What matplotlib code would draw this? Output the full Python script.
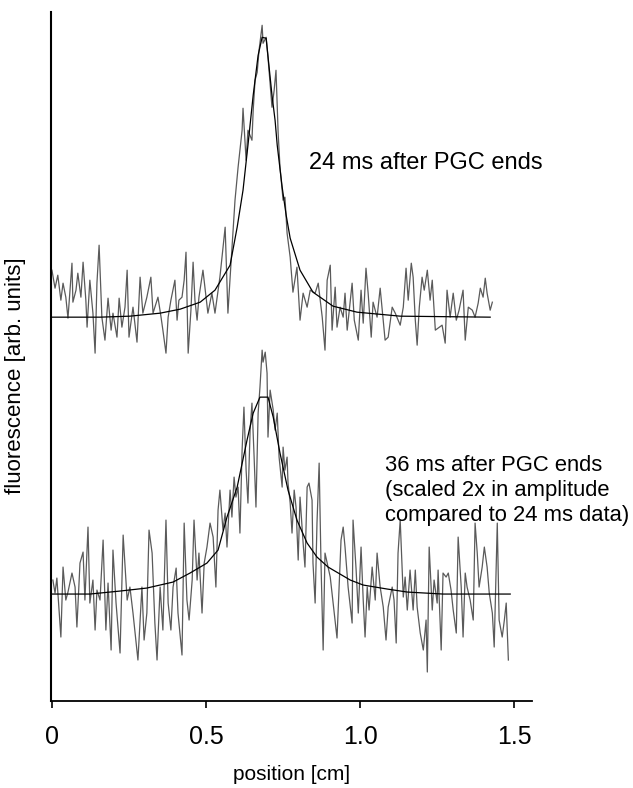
import matplotlib
matplotlib.use('Agg')
import matplotlib.pyplot as plt

plt.rcParams['font.family'] = ['Liberation Sans', 'DejaVu Sans']

# 24 ms trace (signal above its own baseline, arb. units)
x_24 = [0.000, 0.010, 0.019, 0.029, 0.036, 0.045, 0.052, 0.065, 0.068, 0.078,
        0.084, 0.094, 0.101, 0.110, 0.114, 0.123, 0.133, 0.140, 0.146, 0.153,
        0.162, 0.172, 0.182, 0.192, 0.198, 0.211, 0.218, 0.227, 0.237, 0.244,
        0.250, 0.263, 0.276, 0.286, 0.295, 0.308, 0.321, 0.328, 0.344, 0.354,
        0.360, 0.370, 0.377, 0.386, 0.399, 0.406, 0.412, 0.422, 0.429, 0.435,
        0.442, 0.451, 0.458, 0.464, 0.471, 0.477, 0.490, 0.506, 0.519, 0.529,
        0.545, 0.562, 0.571, 0.581, 0.594, 0.604, 0.617, 0.620, 0.630, 0.636,
        0.649, 0.653, 0.659, 0.666, 0.672, 0.682, 0.685, 0.695, 0.701, 0.714,
        0.721, 0.727, 0.734, 0.740, 0.750, 0.756, 0.763, 0.773, 0.782, 0.795,
        0.805, 0.815, 0.828, 0.838, 0.854, 0.864, 0.877, 0.886, 0.893, 0.903,
        0.909, 0.919, 0.925, 0.935, 0.945, 0.951, 0.958, 0.974, 0.981, 0.994,
        1.003, 1.010, 1.019, 1.026, 1.036, 1.042, 1.055, 1.065, 1.075, 1.081,
        1.091, 1.104, 1.114, 1.130, 1.140, 1.149, 1.156, 1.166, 1.172, 1.179,
        1.185, 1.192, 1.201, 1.208, 1.218, 1.227, 1.234, 1.244, 1.253, 1.266,
        1.276, 1.282, 1.292, 1.302, 1.312, 1.321, 1.334, 1.341, 1.351, 1.364,
        1.373, 1.383, 1.390, 1.399, 1.406, 1.412, 1.422, 1.429]
y_24 = [0.47, 0.29, 0.42, 0.17, 0.34, 0.20, -0.01, 0.54, 0.15, 0.27,
        0.44, 0.20, 0.55, 0.17, -0.10, 0.37, 0.04, -0.36, 0.34, 0.72,
        0.00, -0.23, 0.19, -0.13, 0.04, -0.20, 0.19, -0.10, 0.10, 0.47,
        -0.20, 0.10, -0.25, 0.40, 0.04, 0.20, 0.40, 0.04, 0.20, 0.00,
        -0.13, -0.36, 0.00, 0.17, 0.37, -0.03, 0.17, 0.20, 0.37, 0.65,
        -0.36, 0.07, 0.55, 0.17, -0.03, 0.20, 0.47, 0.04, 0.24, 0.04,
        0.40, 0.90, 0.04, 0.54, 1.17, 1.50, 1.87, 2.09, 1.57, 1.87,
        1.77, 2.07, 2.37, 2.45, 2.67, 2.92, 2.74, 2.80, 2.60, 2.10,
        2.27, 2.47, 1.84, 1.50, 1.17, 1.20, 0.84, 0.60, 0.25, 0.50,
        -0.03, 0.24, 0.10, 0.27, 0.24, 0.34, 0.00, -0.33, 0.37, 0.52,
        -0.13, 0.30, -0.10, 0.10, 0.00, 0.24, -0.13, 0.34, -0.03, -0.23,
        0.27, -0.06, 0.49, 0.24, -0.20, 0.15, 0.00, 0.29, -0.03, -0.23,
        -0.20, 0.10, 0.04, -0.08, 0.10, 0.49, 0.17, 0.54, 0.40, -0.03,
        -0.28, 0.10, 0.40, 0.27, 0.47, 0.17, 0.37, -0.13, -0.11, -0.08,
        -0.26, 0.27, 0.00, 0.24, -0.03, 0.07, 0.27, -0.23, 0.10, 0.07,
        0.00, 0.14, 0.29, 0.20, 0.39, 0.24, 0.07, 0.15]

# fit to the 24 ms trace
fit24_x = [0.000, 0.156, 0.253, 0.351, 0.416, 0.481, 0.529, 0.578, 0.601, 0.620,
           0.636, 0.653, 0.669, 0.682, 0.695, 0.714, 0.724, 0.731, 0.747, 0.760,
           0.773, 0.805, 0.847, 0.912, 0.990, 1.130, 1.422]
fit24_y = [0.00, 0.00, 0.01, 0.04, 0.08, 0.15, 0.27, 0.52, 0.90, 1.27,
           1.72, 2.22, 2.62, 2.80, 2.79, 2.22, 1.97, 1.72, 1.30, 1.02,
           0.79, 0.47, 0.25, 0.11, 0.05, 0.01, 0.00]

# 36 ms trace (scaled 2x), signal above its own baseline
x_36 = [0.003, 0.010, 0.016, 0.029, 0.036, 0.045, 0.052, 0.065, 0.075, 0.081,
        0.091, 0.101, 0.107, 0.117, 0.123, 0.133, 0.140, 0.146, 0.156, 0.166,
        0.175, 0.182, 0.192, 0.198, 0.208, 0.221, 0.231, 0.244, 0.253, 0.263,
        0.279, 0.292, 0.299, 0.308, 0.315, 0.325, 0.334, 0.341, 0.351, 0.360,
        0.370, 0.377, 0.386, 0.393, 0.403, 0.409, 0.422, 0.429, 0.438, 0.445,
        0.455, 0.461, 0.471, 0.477, 0.487, 0.494, 0.503, 0.513, 0.523, 0.532,
        0.539, 0.545, 0.555, 0.562, 0.568, 0.578, 0.584, 0.591, 0.597, 0.604,
        0.610, 0.617, 0.623, 0.630, 0.636, 0.643, 0.649, 0.656, 0.662, 0.669,
        0.675, 0.682, 0.685, 0.692, 0.698, 0.701, 0.708, 0.718, 0.724, 0.731,
        0.737, 0.747, 0.750, 0.756, 0.763, 0.766, 0.773, 0.779, 0.786, 0.792,
        0.799, 0.805, 0.815, 0.821, 0.828, 0.834, 0.844, 0.847, 0.854, 0.860,
        0.867, 0.873, 0.880, 0.886, 0.903, 0.925, 0.938, 0.945, 0.951, 0.961,
        0.974, 0.977, 0.987, 0.994, 1.003, 1.010, 1.016, 1.023, 1.029, 1.039,
        1.049, 1.055, 1.065, 1.075, 1.084, 1.091, 1.104, 1.110, 1.117, 1.123,
        1.130, 1.140, 1.146, 1.153, 1.162, 1.172, 1.179, 1.185, 1.195, 1.205,
        1.214, 1.218, 1.224, 1.234, 1.240, 1.250, 1.253, 1.263, 1.269, 1.279,
        1.286, 1.295, 1.302, 1.312, 1.318, 1.328, 1.334, 1.341, 1.347, 1.357,
        1.367, 1.373, 1.380, 1.386, 1.396, 1.403, 1.412, 1.419, 1.429, 1.435,
        1.445, 1.451, 1.461, 1.468, 1.474, 1.481]
y_36 = [0.14, 0.01, 0.16, -0.43, 0.27, -0.06, 0.02, 0.21, 0.07, -0.33,
        0.31, 0.42, -0.06, 0.67, -0.09, 0.14, -0.36, 0.04, -0.06, 0.54,
        -0.36, 0.11, -0.56, 0.44, -0.09, -0.59, 0.59, -0.06, 0.07, -0.19,
        -0.66, 0.07, -0.46, -0.19, 0.64, 0.41, -0.29, -0.66, 0.07, -0.36,
        0.74, -0.09, -0.36, 0.07, 0.26, -0.19, -0.61, 0.71, -0.06, -0.26,
        0.14, 0.74, 0.14, 0.41, -0.19, 0.31, 0.47, 0.71, 0.57, 0.07,
        0.84, 1.04, 0.64, 0.81, 0.47, 1.04, 0.77, 1.17, 0.97, 1.07,
        0.61, 1.44, 1.87, 1.24, 0.91, 1.64, 1.91, 1.37, 0.87, 1.81,
        2.07, 2.44, 2.32, 2.42, 2.21, 1.57, 2.04, 1.84, 1.64, 1.81,
        1.37, 1.07, 1.47, 1.24, 1.37, 1.11, 0.91, 0.61, 1.04, 0.87,
        0.34, 0.97, 0.51, 0.27, 1.07, 1.11, 0.94, 0.31, -0.09, 0.71,
        1.31, 0.31, -0.56, 0.41, 0.17, -0.44, 0.54, 0.67, 0.47, 0.07,
        -0.29, 0.74, 0.24, -0.19, 0.47, -0.06, -0.43, 0.07, -0.16, 0.27,
        -0.06, 0.41, 0.07, -0.13, -0.46, -0.13, 0.07, -0.06, -0.49, 0.41,
        0.74, -0.03, 0.17, -0.16, 0.24, -0.16, 0.24, -0.13, -0.39, -0.56,
        -0.26, -0.78, 0.47, -0.16, 0.14, -0.09, 0.24, -0.56, 0.21, 0.17,
        0.21, 0.04, -0.16, -0.39, 0.57, 0.07, -0.43, 0.21, 0.07, -0.06,
        -0.26, 0.71, 0.41, 0.07, 0.27, 0.47, 0.27, 0.01, -0.19, -0.53,
        0.71, -0.26, -0.43, -0.26, -0.09, -0.66]

# fit to the 36 ms trace
fit36_x = [0.000, 0.123, 0.221, 0.308, 0.393, 0.448, 0.503, 0.539, 0.568, 0.601,
           0.633, 0.653, 0.675, 0.701, 0.718, 0.740, 0.766, 0.795, 0.828, 0.860,
           0.896, 0.968, 1.010, 1.088, 1.153, 1.269, 1.487]
fit36_y = [0.00, 0.00, 0.03, 0.06, 0.12, 0.21, 0.31, 0.44, 0.77, 1.07,
           1.54, 1.81, 1.97, 1.97, 1.77, 1.41, 1.04, 0.74, 0.51, 0.37,
           0.27, 0.14, 0.09, 0.05, 0.02, 0.00, 0.00]

# vertical offsets used to stack the two traces
offset_24 = 3.84
offset_36 = 1.07

fig = plt.figure(figsize=(6.33, 7.88), dpi=100)
ax = fig.add_axes([0.0806, 0.1104, 0.760, 0.874])

ax.plot(x_24, [v + offset_24 for v in y_24], color='#5a5a5a', lw=0.9)
ax.plot(fit24_x, [v + offset_24 for v in fit24_y], color='black', lw=0.9)
ax.plot(x_36, [v + offset_36 for v in y_36], color='#5a5a5a', lw=0.9)
ax.plot(fit36_x, [v + offset_36 for v in fit36_y], color='black', lw=0.9)

ax.text(0.834, 5.38, '24 ms after PGC ends', fontsize=17, va='center', ha='left')
ax.text(1.08, 2.11, '36 ms after PGC ends\n(scaled 2x in amplitude\ncompared to 24 ms data)',
        fontsize=15.8, va='center', ha='left', linespacing=1.25)

ax.set_xlim(-0.003, 1.558)
ax.set_ylim(0, 6.89)
ax.set_xticks([0, 0.5, 1.0, 1.5])
ax.set_xticklabels(['0', '0.5', '1.0', '1.5'], fontsize=18)
ax.set_yticks([])
ax.tick_params(axis='x', direction='out', length=5, width=1.2, pad=12)
ax.spines['top'].set_visible(False)
ax.spines['right'].set_visible(False)
ax.spines['left'].set_linewidth(1.5)
ax.spines['bottom'].set_linewidth(1.3)
ax.set_xlabel('position [cm]', fontsize=15, labelpad=12)
ax.set_ylabel('fluorescence [arb. units]', fontsize=16)
ax.yaxis.set_label_coords(-0.052, 0.473)

fig.savefig('out.png', dpi=100)
